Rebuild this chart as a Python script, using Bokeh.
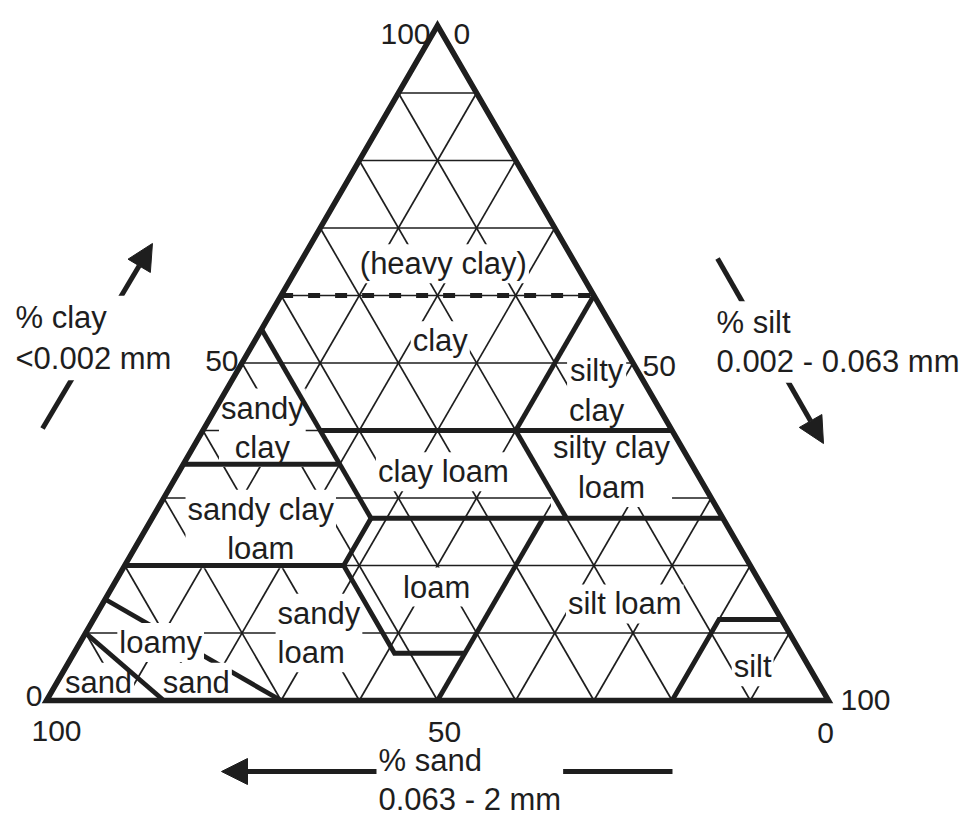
import numpy as np
from bokeh.plotting import figure
from bokeh.models import Arrow, NormalHead
from bokeh.core.properties import value
from bokeh.embed import file_html
from bokeh.resources import INLINE

# ---------------- data ----------------
grid_pct = [10, 20, 30, 40, 50, 60, 70, 80, 90]

# texture-class boundaries as (sand, silt, clay) vertices
bnd_heavy_clay = [(40, 0, 60), (0, 40, 60)]                      # dashed
bnd_silty_clay = [(0, 40, 60), (20, 40, 40)]
bnd_clay40 = [(45, 15, 40), (0, 60, 40)]
bnd_sandy_clay = [(45, 0, 55), (45, 28, 27)]
bnd_sandy_clay_bottom = [(65, 0, 35), (45, 20, 35)]
bnd_clay_loam_right = [(20, 40, 40), (20, 53, 27)]
bnd_clay27 = [(45, 28, 27), (0, 73, 27)]
bnd_scl_bottom = [(80, 0, 20), (52, 28, 20)]
bnd_loam_left = [(45, 28, 27), (52, 28, 20), (52, 41, 7), (43, 50, 7)]
bnd_silt50 = [(23, 50, 27), (50, 50, 0)]
bnd_silt = [(20, 80, 0), (8, 80, 12), (0, 88, 12)]
bnd_loamy_sand_top = [(85, 0, 15), (70, 30, 0)]
bnd_sand = [(90, 0, 10), (85, 15, 0)]

class_labels = ["(heavy clay)", "clay", "silty\nclay", "sandy\nclay", "clay loam",
                "silty clay\nloam", "sandy clay\nloam", "loam", "silt loam",
                "silt", "loamy", "sand", "sand"]
label_sand = [16.9, 23.0, 6.7, 52.2, 32.3, 10.5, 59.9, 41.7, 18.9, 7.2, 81.1, 79.5, 92.0]
label_silt = [18.4, 23.7, 47.4, 7.4, 33.8, 55.0, 14.7, 41.5, 66.8, 87.8, 10.3, 17.8, 5.3]
label_clay = [64.7, 53.3, 45.9, 40.4, 33.9, 34.5, 25.4, 16.8, 14.3, 5.0, 8.6, 2.7, 2.7]
# left-aligned label
sl_label = "sandy\nloam"
sl_comp = (65.7, 24.3, 10.0)

tick_values = [100, 50, 0]
tick_text = ["100", "50", "0"]
clay_tick_dx = [-7, -3.5, -4]
clay_tick_dy = [8, -2.5, -5]
silt_tick_values = [0, 50, 100]
silt_tick_text = ["0", "50", "100"]
silt_tick_dx = [16, 9.5, 12]
silt_tick_dy = [8, 2.5, -1]
sand_tick_dx = [10, 7, -3]
sand_tick_dy = [30, 31, 32]

INK = "#1e1e1e"
FONT = value("Liberation Sans")

S3 = np.sqrt(3) / 2


def tern(sand, silt, clay):
    return silt + clay / 2.0, clay * S3


def poly(pts):
    xs, ys = zip(*[tern(*p) for p in pts])
    return list(xs), list(ys)


p = figure(width=965, height=820, x_range=(-5.882, 117.519), y_range=(-15.396, 89.813),
           output_backend="svg", toolbar_location=None, min_border=0)
p.axis.visible = False
p.grid.visible = False
p.outline_line_color = None
p.background_fill_color = "white"
p.border_fill_color = "white"

# thin grid
gx, gy = [], []
for k in grid_pct:
    for a, b in [((100 - k, 0, k), (0, 100 - k, k)),
                 ((100 - k, k, 0), (0, k, 100 - k)),
                 ((k, 100 - k, 0), (k, 0, 100 - k))]:
        xs, ys = poly([a, b])
        gx.append(xs)
        gy.append(ys)
p.multi_line(gx, gy, line_color=INK, line_width=1.7)

TW = 4.8
# boundary drawn under labels
xs, ys = poly(bnd_loamy_sand_top)
p.line(xs, ys, line_color=INK, line_width=TW)

# axis arrows (under labels)
arrows = [(-0.51, 34.90, 13.55, 58.64), (85.81, 56.71, 99.36, 32.97), (80.05, -9.11, 22.38, -9.11)]
for x0, y0, x1, y1 in arrows:
    p.add_layout(Arrow(end=NormalHead(size=26, fill_color=INK, line_color=INK, line_width=1),
                       x_start=x0, y_start=y0, x_end=x1, y_end=y1,
                       line_color=INK, line_width=5, level="underlay"))

# class labels
lx, ly = zip(*[tern(s, si, c) for s, si, c in zip(label_sand, label_silt, label_clay)])
p.text(list(lx), list(ly), text=class_labels, text_font=FONT, text_font_size="31px",
       text_align="center", text_baseline="middle", text_color=INK, text_line_height=1.13,
       background_fill_color="white", padding=2)
sx, sy = tern(*sl_comp)
p.text([sx], [sy], text=[sl_label], text_font=FONT, text_font_size="31px",
       text_align="left", text_baseline="middle", text_color=INK, text_line_height=1.13,
       background_fill_color="white", padding=2)

# axis titles
titles = ["% clay\n<0.002 mm", "% silt\n0.002 - 0.063 mm", "% sand\n0.063 - 2 mm"]
tx = [-4.48, 85.17, 42.2]
ty = [46.51, 46.0, -10.20]
tlh = [1.19, 1.1, 1.12]
tpad = [4, 4, 2]
for t, x0, y0, lh, pd in zip(titles, tx, ty, tlh, tpad):
    p.text([x0], [y0], text=[t], text_font=FONT, text_font_size="31px", text_align="left",
           text_baseline="middle", text_color=INK, text_line_height=lh,
           background_fill_color="white", padding=pd)

# thick boundaries
for b in [bnd_silty_clay, bnd_clay40, bnd_sandy_clay, bnd_sandy_clay_bottom,
          bnd_clay_loam_right, bnd_clay27, bnd_scl_bottom, bnd_loam_left,
          bnd_silt50, bnd_silt, bnd_sand]:
    xs, ys = poly(b)
    p.line(xs, ys, line_color=INK, line_width=TW, line_join="miter")
xs, ys = poly(bnd_heavy_clay)
p.line(xs, ys, line_color=INK, line_width=5, line_dash="12 15")

# outline
ox, oy = poly([(100, 0, 0), (0, 100, 0), (0, 0, 100)])
p.patch(ox, oy, fill_alpha=0, line_color=INK, line_width=5.5, line_join="miter")

# tick labels
cx, cy = zip(*[tern(100 - v, 0, v) for v in tick_values])
p.text(list(cx), list(cy), text=tick_text, x_offset=clay_tick_dx, y_offset=clay_tick_dy,
       text_font=FONT, text_font_size="30px", text_align="right", text_baseline="alphabetic",
       text_color=INK)
rx, ry = zip(*[tern(0, v, 100 - v) for v in silt_tick_values])
p.text(list(rx), list(ry), text=silt_tick_text, x_offset=silt_tick_dx, y_offset=silt_tick_dy,
       text_font=FONT, text_font_size="30px", text_align="left", text_baseline="alphabetic",
       text_color=INK)
bx, by = zip(*[tern(v, 100 - v, 0) for v in tick_values])
p.text(list(bx), list(by), text=tick_text, x_offset=sand_tick_dx, y_offset=sand_tick_dy,
       text_font=FONT, text_font_size="30px", text_align="center", text_baseline="alphabetic",
       text_color=INK)

open("out.html", "w").write(file_html(p, INLINE))
